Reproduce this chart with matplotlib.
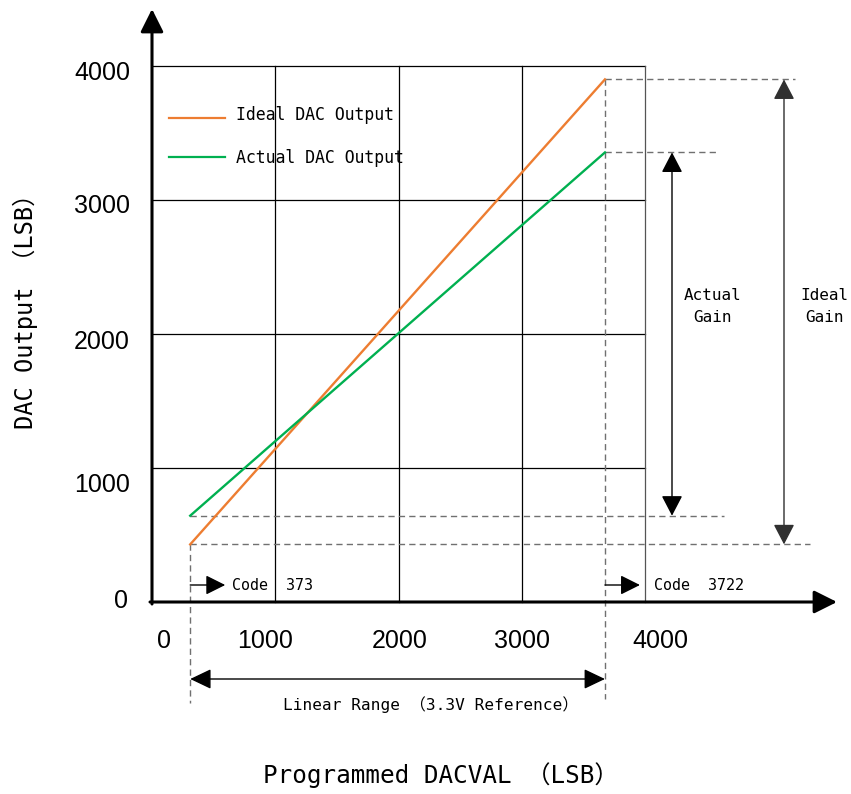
import matplotlib
matplotlib.use('Agg')
import matplotlib.pyplot as plt
from matplotlib.patches import FancyArrowPatch

# ---------------- data ----------------
tick_values = [0, 1000, 2000, 3000, 4000]
tick_labels = ['0', '1000', '2000', '3000', '4000']
code_x = [310, 3675]                 # drawn x of "Code 373" and "Code 3722"
code_labels = ['Code  373', 'Code  3722']
ideal_y = [430, 3900]                # Ideal DAC output at the two codes
actual_y = [644, 3355]               # Actual DAC output at the two codes
series_names = ['Ideal DAC Output', 'Actual DAC Output']
series_colors = ['#ED7D31', '#00B050']
gain_labels = ['Actual\nGain', 'Ideal\nGain']
range_label = 'Linear Range （3.3V Reference）'
x_title = 'Programmed DACVAL （LSB）'
y_title = 'DAC Output （LSB）'

# ---------------- layout helpers (pixel -> data) ----------------
W, H = 851, 794
X0PX, SX = 152.0, 0.12325   # px of x=0, px per unit
Y0PX, SY = 602.0, 0.134     # px of y=0, px per unit


def dx(px):
    return (px - X0PX) / SX


def dy(py):
    return (Y0PX - py) / SY


fig = plt.figure(figsize=(W / 100, H / 100), dpi=100)
ax = fig.add_axes([0, 0, 1, 1])
ax.set_xlim(dx(0), dx(W))
ax.set_ylim(dy(H), dy(0))
ax.axis('off')

MONO = ['DejaVu Sans Mono', 'Noto Sans CJK SC']
NUM = 'Liberation Sans'
DASH = (0, (4.5, 3))
GRAY = '#707070'


def arrow(p0, p1, style='-|>', hl=12, hw=6, lw=1.0, color='black', z=3):
    a = FancyArrowPatch(p0, p1,
                        arrowstyle=f'{style},head_length={hl},head_width={hw}',
                        mutation_scale=1, lw=lw, color=color,
                        shrinkA=0, shrinkB=0, zorder=z)
    ax.add_patch(a)


# ---------------- grid box ----------------
xmax = tick_values[-1]
for v in tick_values[1:]:
    ax.plot([0, xmax], [v, v], color='black', lw=0.9, zorder=1)
    ax.plot([v, v], [0, xmax], color='black' if v < xmax else '#555555',
            lw=0.9, zorder=1)

# axes with arrows
arrow((0, dy(604)), (0, dy(9)), hl=14, hw=7, lw=2.2)
arrow((dx(150), 0), (dx(837), 0), hl=14, hw=7, lw=2.2)

# ---------------- tick labels ----------------
x_shift_px = [12.5, -10, 1.5, 0, 15]
for v, lab, s in zip(tick_values, tick_labels, x_shift_px):
    ax.text(v + s / SX, dy(641), lab, fontsize=18, family=NUM,
            ha='center', va='center')
y_shift_px = [-1, 17, 8, 6, 6.5]
y_right_px = [128, 130, 130, 130, 130]
for v, lab, s, r in zip(tick_values, tick_labels, y_shift_px, y_right_px):
    ax.text(dx(r), v - s / SY, lab, fontsize=18, family=NUM,
            ha='right', va='center')

# ---------------- dashed guides ----------------
ax.plot([code_x[0], dx(810)], [ideal_y[0], ideal_y[0]], color=GRAY, lw=1, ls=DASH)
ax.plot([code_x[0], dx(724)], [actual_y[0], actual_y[0]], color=GRAY, lw=1, ls=DASH)
ax.plot([code_x[1], dx(795)], [ideal_y[1], ideal_y[1]], color=GRAY, lw=1, ls=DASH)
ax.plot([code_x[1], dx(718)], [actual_y[1], actual_y[1]], color=GRAY, lw=1, ls=DASH)
ax.plot([code_x[0], code_x[0]], [ideal_y[0], dy(703)], color=GRAY, lw=1, ls=DASH)
ax.plot([code_x[1], code_x[1]], [ideal_y[1], dy(699)], color=GRAY, lw=1, ls=DASH)

# ---------------- series ----------------
ax.plot(code_x, ideal_y, color=series_colors[0], lw=1.7, zorder=4)
ax.plot(code_x, actual_y, color=series_colors[1], lw=1.7, zorder=4)

# legend
for i, (name, col) in enumerate(zip(series_names, series_colors)):
    ly = dy([118, 157][i])
    ax.plot([dx(169), dx(225)], [ly, ly], color=col, lw=1.6)
    ax.text(dx(236), dy([115, 158][i]), name, fontsize=11.9, family=MONO,
            ha='left', va='center')

# ---------------- gain arrows ----------------
arrow((dx(672), actual_y[0]), (dx(672), actual_y[1]), style='<|-|>',
      hl=12.5, hw=6.5, lw=1.0)
arrow((dx(784), ideal_y[0]), (dx(784), ideal_y[1]), style='<|-|>',
      hl=12.5, hw=6.5, lw=1.0, color='#303030')
ax.text(dx(713), dy(306.5), gain_labels[0], fontsize=11.5, family=MONO,
        ha='center', va='center', multialignment='center', linespacing=1.65)
ax.text(dx(824), dy(306.5), gain_labels[1], fontsize=11.5, family=MONO,
        ha='center', va='center', multialignment='center', linespacing=1.65)

# ---------------- code markers ----------------
code_text_gap_px = [42, 49]
for cx, lab, g in zip(code_x, code_labels, code_text_gap_px):
    arrow((cx, dy(585)), (cx + 35 / SX, dy(585)), hl=12, hw=6, lw=1.0)
    ax.text(cx + g / SX, dy(585), lab, fontsize=10.8, family=MONO,
            ha='left', va='center')

# linear range
arrow((code_x[0], dy(679)), (code_x[1], dy(679)), style='<|-|>',
      hl=13, hw=6.2, lw=1.0)
ax.text(dx(431), dy(705), range_label, fontsize=11.6, family=MONO,
        ha='center', va='center')

# ---------------- axis titles ----------------
ax.text(dx(441), dy(775), x_title, fontsize=17.5, family=MONO,
        ha='center', va='center')
ax.text(dx(25), dy(306), y_title, fontsize=17, family=MONO,
        ha='center', va='center', rotation=90)

fig.savefig('out.png', dpi=100)
